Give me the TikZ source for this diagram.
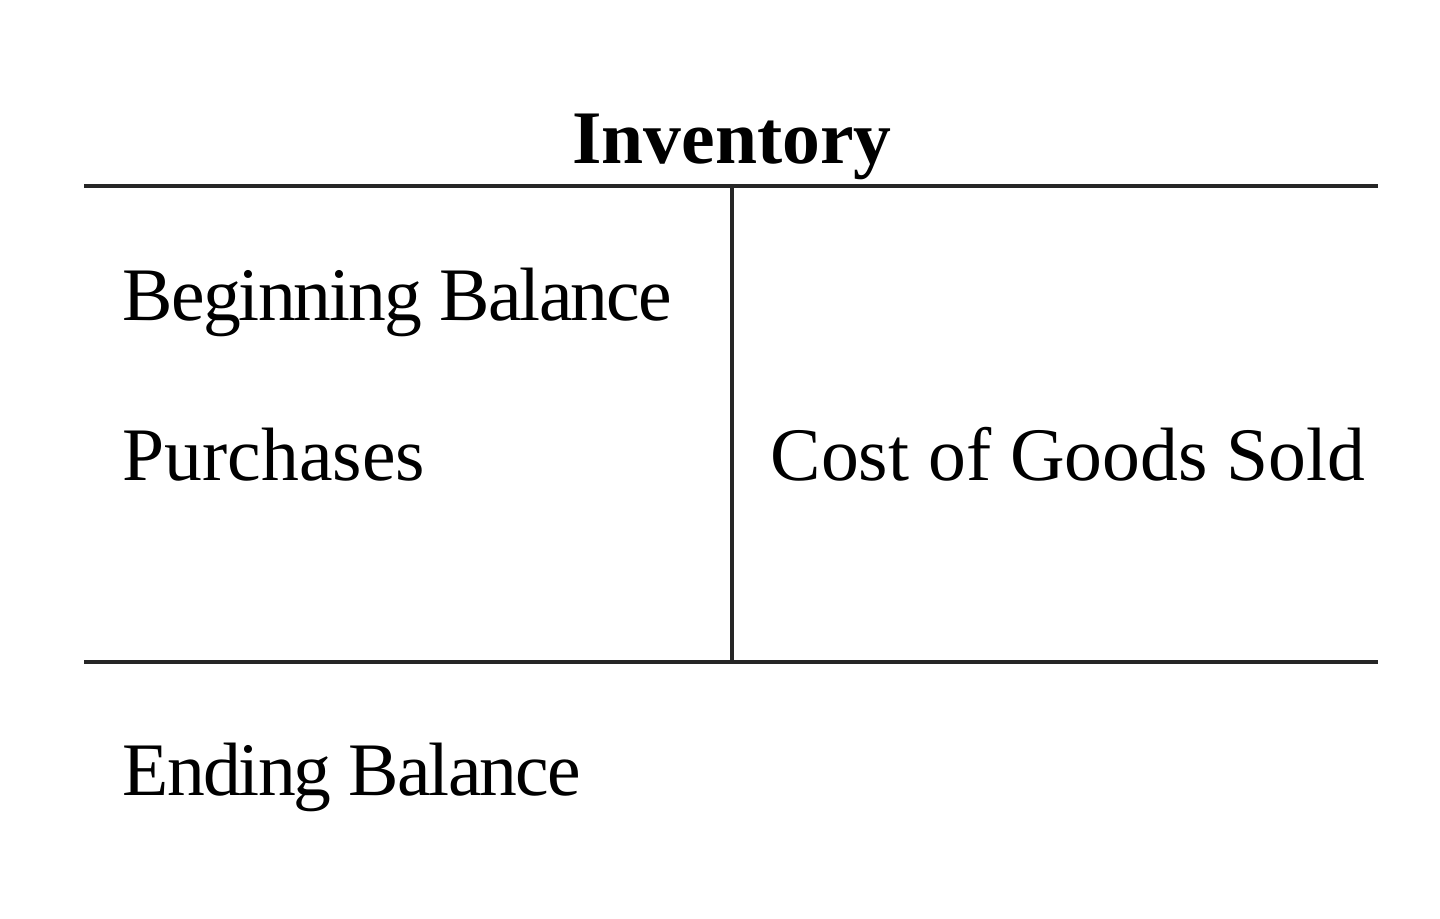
\documentclass[tikz,border=0pt]{standalone}
\usepackage{fontspec}
\setmainfont{Liberation Serif}
\tikzset{
  entry/.style={anchor=base west, inner sep=0pt, font=\fontsize{21.5}{26}\selectfont},
  tight/.style={font=\fontsize{21.5}{26}\selectfont\addfontfeature{LetterSpace=-2.5}},
  title/.style={anchor=base, inner sep=0pt, font=\fontsize{21.5}{26}\selectfont\bfseries},
  rule/.style={line width=1.1pt, black!85}
}
\begin{document}
\begin{tikzpicture}[x=0.01cm, y=-0.01cm]
    \useasboundingbox (0,0) rectangle (1440,918);
    % T-account frame
    \coordinate (topL) at (84,186);
    \coordinate (topR) at (1378,186);
    \coordinate (botL) at (84,662);
    \coordinate (botR) at (1378,662);
    \coordinate (midT) at (732,186);
    \coordinate (midB) at (732,662);
    \draw[rule] (topL) -- (topR);
    \draw[rule] (botL) -- (botR);
    \draw[rule] (midT) -- (midB);
    % texts
    \node[title] (name) at (732,163) {Inventory};
    \node[entry, tight] (begin) at (122,320) {Beginning Balance};
    \node[entry] (purch) at (122,480) {Purchases};
    \node[entry] (cogs) at (770,480) {Cost of Goods Sold};
    \node[entry, tight] (ending) at (122,795) {Ending Balance};
\end{tikzpicture}
\end{document}
